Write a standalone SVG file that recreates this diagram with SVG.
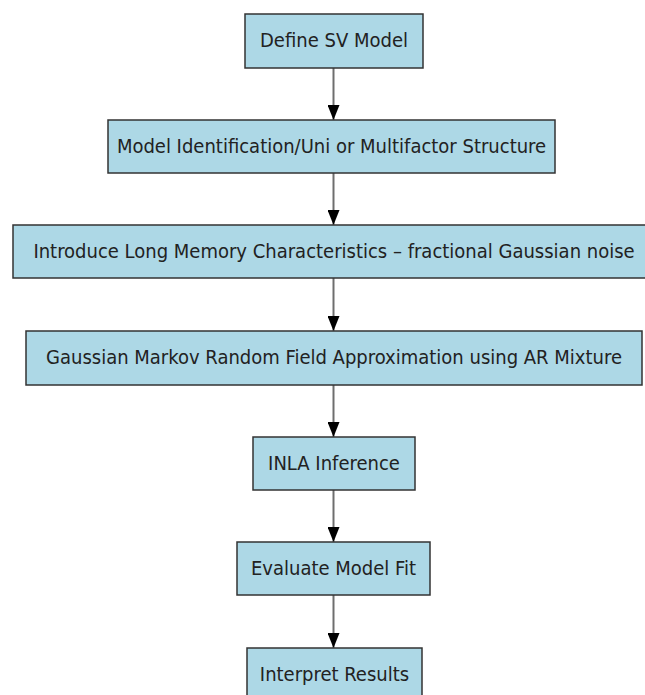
<svg xmlns="http://www.w3.org/2000/svg" width="645" height="695" viewBox="0 0 645 695">
  <defs>
    <style>
      .box { fill: #add8e6; stroke: #333333; stroke-width: 1.5; }
      .label { font-family: "DejaVu Sans Condensed", "DejaVu Sans", Verdana, sans-serif; font-size: 20px; fill: #222222; text-anchor: middle; }
      .edge { stroke: #6e6e6e; stroke-width: 2; fill: none; marker-end: url(#arrow); }
    </style>
    <marker id="arrow" viewBox="0 0 15 12" refX="15" refY="6" markerWidth="7.5" markerHeight="6" markerUnits="strokeWidth" orient="auto">
      <path d="M0,0 L15,6 L0,12 Z" fill="#000000"/>
    </marker>
  </defs>

  <g id="connectors">
    <line class="edge" x1="333.5" y1="68" x2="333.5" y2="120"/>
    <line class="edge" x1="333.5" y1="173" x2="333.5" y2="225"/>
    <line class="edge" x1="333.5" y1="278" x2="333.5" y2="331"/>
    <line class="edge" x1="333.5" y1="385" x2="333.5" y2="437"/>
    <line class="edge" x1="333.5" y1="490" x2="333.5" y2="542"/>
    <line class="edge" x1="333.5" y1="595" x2="333.5" y2="648"/>
  </g>

  <g id="define-sv-model">
    <rect class="box" x="245" y="14" width="178" height="54"/>
    <text class="label" x="334" y="47">Define SV Model</text>
  </g>

  <g id="model-identification">
    <rect class="box" x="108" y="120" width="447" height="53"/>
    <text class="label" x="331.5" y="153">Model Identification/Uni or Multifactor Structure</text>
  </g>

  <g id="long-memory">
    <rect class="box" x="13" y="225" width="640" height="53"/>
    <text class="label" x="334" y="258">Introduce Long Memory Characteristics – fractional Gaussian noise</text>
  </g>

  <g id="gmrf-approximation">
    <rect class="box" x="26" y="331" width="616" height="54"/>
    <text class="label" x="334" y="364">Gaussian Markov Random Field Approximation using AR Mixture</text>
  </g>

  <g id="inla-inference">
    <rect class="box" x="253" y="437" width="162" height="53"/>
    <text class="label" x="334" y="470">INLA Inference</text>
  </g>

  <g id="evaluate-model-fit">
    <rect class="box" x="237" y="542" width="193" height="53"/>
    <text class="label" x="333.5" y="575">Evaluate Model Fit</text>
  </g>

  <g id="interpret-results">
    <rect class="box" x="247" y="648" width="175" height="53"/>
    <text class="label" x="334.5" y="681">Interpret Results</text>
  </g>
</svg>
